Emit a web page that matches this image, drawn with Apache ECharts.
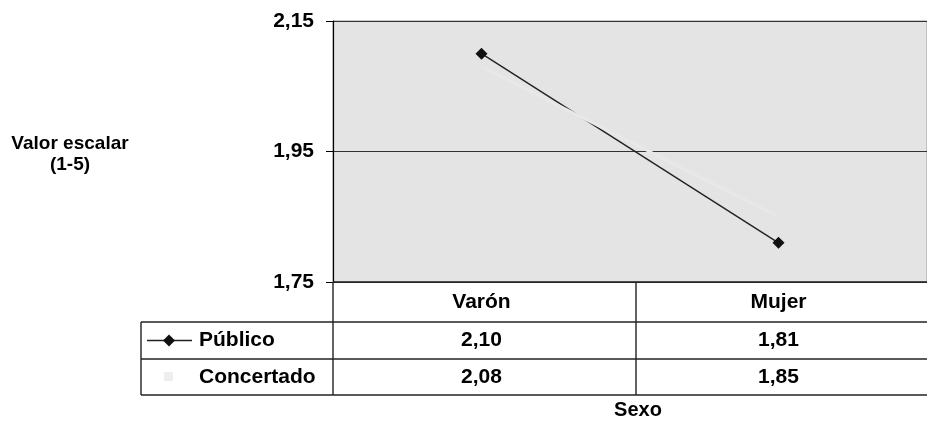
<!DOCTYPE html>
<html><head><meta charset="utf-8">
<script src="https://cdn.jsdelivr.net/npm/echarts@6/dist/echarts.min.js"></script>
<style>html,body{margin:0;padding:0;background:#fff;}#c{width:927px;height:426px;}</style>
</head><body><div id="c"></div>
<script>
const categories = ['Varón', 'Mujer'];
const seriesNames = ['Público', 'Concertado'];
const publico = [2.10, 1.81];
const concertado = [2.08, 1.85];
const yTicks = [1.75, 1.95, 2.15];
const yTitle = 'Valor escalar\n(1-5)';
const xTitle = 'Sexo';

const F = '"Liberation Sans", Arial, sans-serif';
const fmt = v => v.toFixed(2).replace('.', ',');
const chart = echarts.init(document.getElementById('c'));

const G = {left: 333, top: 21, width: 606, height: 261};
const rowH = [40, 37, 36];
const tableLeft = 141;
const bg = '#e4e4e4';

chart.setOption({
  animation: false,
  grid: {left: G.left, top: G.top, width: G.width, height: G.height,
         show: true, backgroundColor: bg, borderColor: '#9a9a9a', borderWidth: 1},
  xAxis: {type: 'category', data: categories, boundaryGap: true,
          axisLine: {show: false}, axisTick: {show: false}, axisLabel: {show: false}, splitLine: {show: false}},
  yAxis: {type: 'value', min: yTicks[0], max: yTicks[yTicks.length - 1], interval: 0.2,
          axisLine: {show: true, lineStyle: {color: '#000', width: 1.2}},
          axisTick: {show: true, length: 7, lineStyle: {color: '#000'}},
          axisLabel: {formatter: v => fmt(v), color: '#000', fontFamily: F, fontWeight: 'bold', fontSize: 21, margin: 19},
          splitLine: {show: true, lineStyle: {color: '#333', width: 1.2}}},
  series: [
    {name: seriesNames[0], type: 'line', data: publico, symbol: 'diamond', symbolSize: 12,
     lineStyle: {color: '#222', width: 1.4}, itemStyle: {color: '#111'}, z: 3},
    {name: seriesNames[1], type: 'line', data: concertado, symbol: 'rect', symbolSize: 6,
     lineStyle: {color: '#e8e8e8', width: 3}, itemStyle: {color: '#e5e5e5'}, z: 4}
  ]
});

const xs = categories.map((c, i) => chart.convertToPixel({xAxisIndex: 0}, i));
const gl = G.left, gr = G.left + G.width, gb = G.top + G.height;
const colW = G.width / categories.length;
const y0 = gb, y1 = y0 + rowH[0], y2 = y1 + rowH[1], y3 = y2 + rowH[2];
const els = [];
const line = (x1, yA, x2, yB) => els.push({type: 'line', shape: {x1, y1: yA, x2, y2: yB},
  style: {stroke: '#222', lineWidth: 1.4}, z: 10});
const txt = (x, y, s, align, size) => els.push({type: 'text', x, y, style: {text: s, fill: '#000',
  font: 'bold ' + (size || 21) + 'px ' + F, align: align || 'center', verticalAlign: 'middle'}, z: 11});

line(gl, y0, gr, y0);
line(tableLeft, y1, gr, y1);
line(tableLeft, y2, gr, y2);
line(tableLeft, y3, gr, y3);
line(tableLeft, y1, tableLeft, y3);
line(gl, y0, gl, y3);
for (let i = 1; i < categories.length; i++) line(gl + colW * i, y0, gl + colW * i, y3);

categories.forEach((c, i) => txt(xs[i], (y0 + y1) / 2, c));
publico.forEach((v, i) => txt(xs[i], (y1 + y2) / 2, fmt(v)));
concertado.forEach((v, i) => txt(xs[i], (y2 + y3) / 2, fmt(v)));

const ly1 = (y1 + y2) / 2, ly2 = (y2 + y3) / 2;
els.push({type: 'line', shape: {x1: 147, y1: ly1, x2: 192, y2: ly1}, style: {stroke: '#222', lineWidth: 1.4}, z: 10});
els.push({type: 'polygon', shape: {points: [[169, ly1 - 6], [175, ly1], [169, ly1 + 6], [163, ly1]]}, style: {fill: '#111'}, z: 11});
els.push({type: 'rect', shape: {x: 164, y: ly2 - 5, width: 9, height: 9}, style: {fill: '#eeeeee'}, z: 11});
txt(199, ly1, seriesNames[0], 'left');
txt(199, ly2, seriesNames[1], 'left');

els.push({type: 'text', x: 70, y: 154, style: {text: yTitle, fill: '#000', font: 'bold 19px ' + F,
  align: 'center', verticalAlign: 'middle', lineHeight: 21}, z: 11});
els.push({type: 'text', x: 638, y: 410, style: {text: xTitle, fill: '#000', font: 'bold 20px ' + F,
  align: 'center', verticalAlign: 'middle'}, z: 11});

chart.setOption({graphic: {elements: els}});
</script></body></html>
